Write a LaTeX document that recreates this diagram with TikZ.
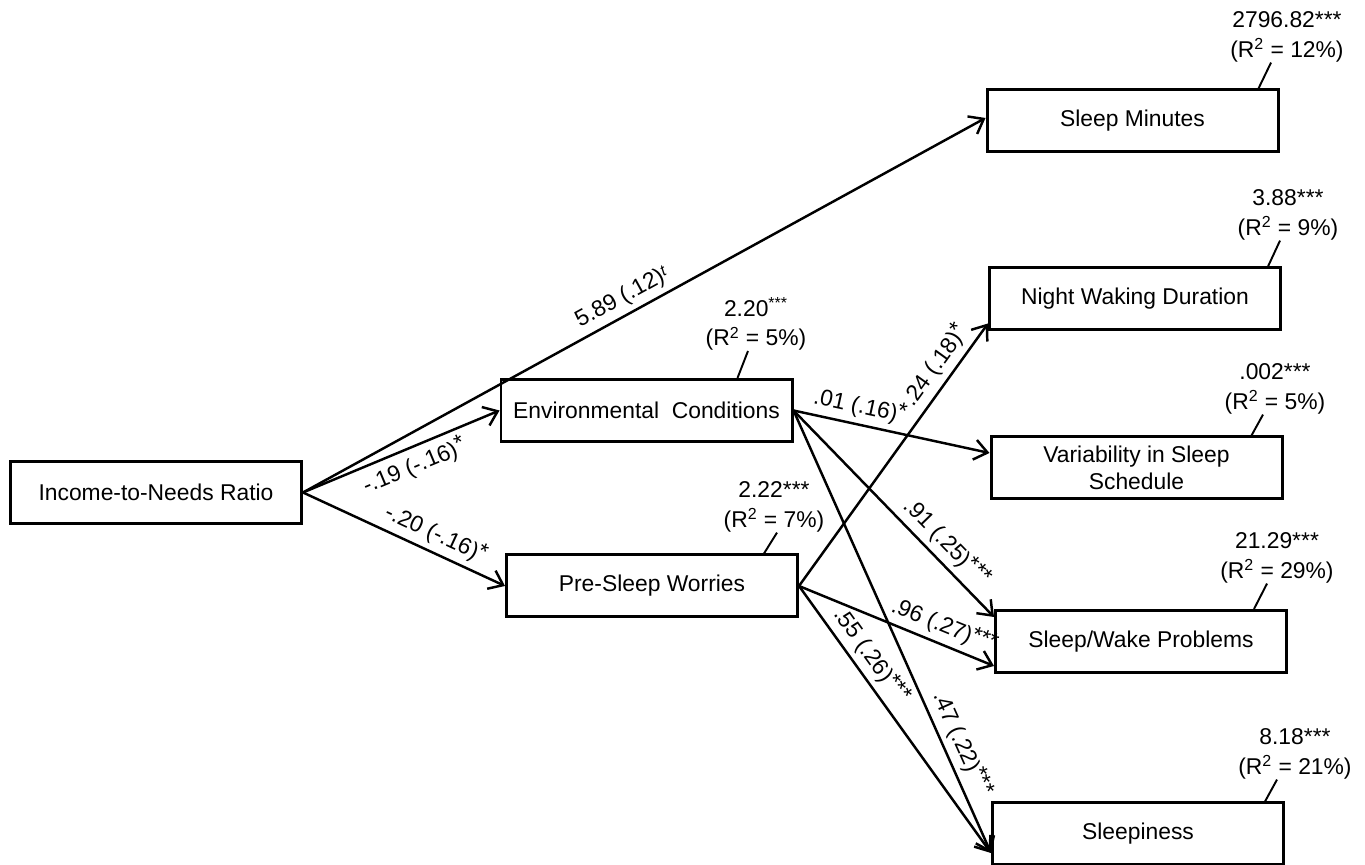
\documentclass[tikz,border=0pt]{standalone}
\usepackage{fontspec}
\setmainfont{Liberation Sans}
\usetikzlibrary{arrows.meta,positioning,calc}

\begin{document}
\begin{tikzpicture}[>={Straight Barb[length=2.6mm,width=4mm]},
   font=\fontsize{13}{15.5}\selectfont,
   bx/.style={rectangle,draw,line width=1.7pt,minimum width=5.82cm,minimum height=1.24cm,inner sep=2pt,align=center},
   rsq/.style={align=center,inner sep=0pt,font=\fontsize{13}{17}\selectfont},
   pth/.style={->,line width=1.4pt},
   lead/.style={line width=1.1pt},
   elab/.style={font=\fontsize{13}{15}\selectfont,sloped,inner sep=3pt}]
  \useasboundingbox (0,0) rectangle (27.3,17.3);
  % predictor and mediators
  \node[bx] (inc) at (3.12,7.45) {Income-to-Needs Ratio};
  \node[bx] (env) at (12.93,9.09) {Environmental\ \ Conditions};
  \node[bx] (pre) at (13.04,5.58) {Pre-Sleep Worries};
  % outcomes
  \node[bx] (slm) at (22.65,14.88) {Sleep Minutes};
  \node[bx] (nwd) at (22.70,11.32) {Night Waking Duration};
  \node[bx] (var) at (22.73,7.94) {Variability in Sleep\\Schedule};
  \node[bx] (swp) at (22.82,4.47) {Sleep/Wake Problems};
  \node[bx] (slp) at (22.76,0.62) {Sleepiness};
  % paths
  \draw[pth] (inc.east)--([yshift=0.06cm]slm.west) node[elab,pos=0.48,above]{5.89 (.12)\raisebox{.4ex}{\textit{\small t}}};
  \draw[pth] (inc.east)--(env.west) node[elab,pos=0.53,below]{-.19 (-.16)\raisebox{.3ex}{*}};
  \draw[pth] (inc.east)--(pre.west) node[elab,pos=0.62,above]{-.20 (-.16)\raisebox{.3ex}{*}};
  \draw[pth] (env.east)--([yshift=0.3cm]var.west) node[elab,pos=0.32,above]{.01 (.16)\raisebox{.3ex}{*}};
  \draw[pth] (env.east)--([yshift=-0.16cm]swp.north west) node[elab,pos=0.70,above]{.91 (.25)\raisebox{.3ex}{***}};
  \draw[pth] (env.east)--([yshift=-0.38cm]slp.west) node[elab,pos=0.77,above]{.47 (.22)\raisebox{.3ex}{***}};
  \draw[pth] (pre.east)--([yshift=0.16cm]nwd.south west) node[elab,pos=0.80,above]{.24 (.18)\raisebox{.3ex}{*}};
  \draw[pth] (pre.east)--([yshift=0.16cm]swp.south west) node[elab,pos=0.71,above]{.96 (.27)\raisebox{.3ex}{***}};
  \draw[pth] (pre.east)--([yshift=-0.38cm]slp.west) node[elab,pos=0.30,above]{.55 (.26)\raisebox{.3ex}{***}};
  % intercepts and R^2
  \node[rsq] (envR) at (15.12,10.82) {2.20\textsuperscript{***}\\(R\textsuperscript{2} = 5\%)};
  \node[rsq] (preR) at (15.48,7.16) {2.22***\\(R\textsuperscript{2} = 7\%)};
  \node[rsq] (slmR) at (25.74,16.56) {2796.82***\\(R\textsuperscript{2} = 12\%)};
  \node[rsq] (nwdR) at (25.76,13.00) {3.88***\\(R\textsuperscript{2} = 9\%)};
  \node[rsq] (varR) at (25.50,9.52) {.002***\\(R\textsuperscript{2} = 5\%)};
  \node[rsq] (swpR) at (25.54,6.14) {21.29***\\(R\textsuperscript{2} = 29\%)};
  \node[rsq] (slpR) at (25.90,2.22) {8.18***\\(R\textsuperscript{2} = 21\%)};
  \draw[lead] ([xshift=-1.12cm]env.north east)--([xshift=-0.16cm]envR.south);
  \draw[lead] ([xshift=-0.70cm]pre.north east)--([xshift=0.06cm]preR.south);
  \draw[lead] ([xshift=-0.42cm]slm.north east)--([xshift=-0.32cm]slmR.south);
  \draw[lead] ([xshift=-0.28cm]nwd.north east)--([xshift=-0.16cm]nwdR.south);
  \draw[lead] ([xshift=-0.64cm]var.north east)--([xshift=-0.24cm]varR.south);
  \draw[lead] ([xshift=-0.68cm]swp.north east)--([xshift=-0.20cm]swpR.south);
  \draw[lead] ([xshift=-0.40cm]slp.north east)--([xshift=-0.36cm]slpR.south);
\end{tikzpicture}
\end{document}
